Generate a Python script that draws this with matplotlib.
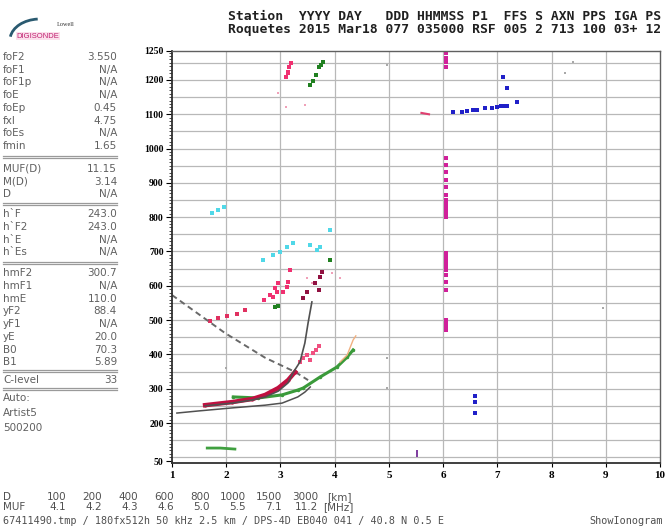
import numpy as np
import matplotlib
matplotlib.use("Agg")
import matplotlib.pyplot as plt
from matplotlib.patches import Arc

W, H = 666, 531

# ---- ionogram traces (frequency MHz, virtual height km) ----
o_freq = [1.61, 2.11, 2.48, 2.72, 2.96, 3.14, 3.27]
o_height = [252, 261, 270, 282, 302, 325, 349]

profile_freq = [1.61, 2.11, 2.48, 2.72, 2.96, 3.14, 3.23, 3.36, 3.45, 3.51, 3.58]
profile_height = [250, 258, 267, 276, 293, 317, 346, 378, 433, 492, 553]

lower_freq = [1.09, 1.48, 2.11, 2.72, 3.03, 3.32, 3.45, 3.55]
lower_height = [229, 235, 244, 252, 258, 276, 290, 305]

muf_freq = [1.0, 1.98, 2.72, 3.27, 3.51]
muf_height = [573, 462, 390, 349, 325]

x_freq = [2.13, 2.59, 3.03, 3.32, 3.42, 3.73, 4.04, 4.23, 4.34]
x_height = [276, 273, 282, 296, 302, 334, 363, 392, 413]

tail_freq = [4.10, 4.23, 4.34, 4.39]
tail_height = [378, 398, 442, 454]

pink_freq = [3.36, 3.42, 3.49, 3.55, 3.60, 3.66, 3.71]
pink_height = [378, 390, 398, 384, 404, 413, 424]

es_freq = [1.65, 1.89, 2.16]
es_height = [127, 127, 124]

hop_freq = [1.70, 1.85, 2.01, 2.20, 2.35]
hop_height = [497, 505, 511, 518, 529]

cluster_freq = [2.70, 2.81, 2.90, 2.96, 2.94, 3.05, 3.14, 3.18, 3.12, 2.86, 3.10, 3.14, 3.16, 3.20, 3.14]
cluster_height = [559, 573, 594, 608, 582, 582, 611, 646, 597, 567, 1209, 1223, 1238, 1250, 1220]

maroon_freq = [3.42, 3.49, 3.71, 3.73, 3.77, 3.64]
maroon_height = [564, 582, 588, 626, 640, 608]

light_freq = [3.49, 3.58, 4.10, 3.95, 2.96, 3.10, 3.45]
light_height = [623, 608, 623, 637, 1162, 1121, 1127]

green_freq = [2.90, 2.96, 3.92, 3.55, 3.60, 3.66, 3.71, 3.79, 3.75]
green_height = [538, 541, 675, 1185, 1197, 1215, 1238, 1252, 1244]

cyan_freq = [2.68, 2.86, 2.99, 3.12, 3.23, 3.55, 3.68, 3.73, 3.92, 1.74, 1.85, 1.96]
cyan_height = [675, 690, 699, 713, 725, 719, 704, 713, 763, 812, 821, 830]

mag_height = [1279, 1264, 1253, 1238,
              973, 952, 932, 908, 888, 865, 850, 843, 835, 828, 821, 814, 807, 801,
              696, 689, 681, 674, 666, 659, 652, 645, 631, 611, 588,
              500, 493, 486, 479, 471]
mag_freq = 6.06

blue_freq = [6.18, 6.35, 6.44, 6.55, 6.63, 6.77, 6.90, 7.00, 7.07, 7.11, 7.18, 7.37, 7.18, 7.11,
             6.59, 6.59, 6.59]
blue_height = [1107, 1108, 1110, 1112, 1113, 1118, 1119, 1121, 1123, 1124, 1124, 1136, 1177, 1209,
               279, 261, 229]

purple_freq = [5.52, 5.52, 5.52, 5.52]
purple_height = [103, 108, 113, 118]

gray_freq = [4.97, 8.40, 8.25, 4.97, 4.97, 2.0, 8.95]
gray_height = [1244, 1252, 1220, 390, 302, 360, 535]

# ---- side panel text ----
groups = [
    [("foF2", "3.550"), ("foF1", "N/A"), ("foF1p", "N/A"), ("foE", "N/A"),
     ("foEp", "0.45"), ("fxI", "4.75"), ("foEs", "N/A"), ("fmin", "1.65")],
    [("MUF(D)", "11.15"), ("M(D)", "3.14"), ("D", "N/A")],
    [("h`F", "243.0"), ("h`F2", "243.0"), ("h`E", "N/A"), ("h`Es", "N/A")],
    [("hmF2", "300.7"), ("hmF1", "N/A"), ("hmE", "110.0"), ("yF2", "88.4"),
     ("yF1", "N/A"), ("yE", "20.0"), ("B0", "70.3"), ("B1", "5.89")],
    [("C-level", "33")],
]
auto_lines = ["Auto:", "Artist5", "500200"]

dist_km = ["100", "200", "400", "600", "800", "1000", "1500", "3000"]
muf_mhz = ["4.1", "4.2", "4.3", "4.6", "5.0", "5.5", "7.1", "11.2"]

header1 = "Station  YYYY DAY   DDD HHMMSS P1  FFS S AXN PPS IGA PS"
header2 = "Roquetes 2015 Mar18 077 035000 RSF 005 2 713 100 03+ 12"
footer = "67411490.tmp / 180fx512h 50 kHz 2.5 km / DPS-4D EB040 041 / 40.8 N 0.5 E"


def px(x, y):
    return x / W, 1 - y / H


def sep_line(fig, y):
    # double grey separator used by the parameter table
    for dy in (-1.0, 1.0):
        yy = 1 - (y + dy) / H
        fig.add_artist(plt.Line2D([3 / W, 117 / W], [yy, yy],
                                  transform=fig.transFigure, color="#9a9a9a", lw=0.9))


fig = plt.figure(figsize=(W / 100, H / 100), dpi=100)
ax = fig.add_axes([172 / W, 1 - 463 / H, 488 / W, 412 / H])

ax.set_xlim(1, 10)
ax.set_ylim(83.4, 1284.5)

# grid
for h in range(100, 1300, 50):
    ax.axhline(h, color="#b8b8b8", lw=0.9, zorder=0)
for f in range(2, 10):
    ax.axvline(f, color="#b8b8b8", lw=0.9, zorder=0)

# traces
ax.plot(muf_freq, muf_height, color="#686868", lw=1.4, ls=(0, (3, 2)), zorder=2)
ax.plot(lower_freq, lower_height, color="#505050", lw=1.1, zorder=2)
ax.plot(x_freq, x_height, color="#3a9a3a", lw=2.2, marker=".", ms=3, zorder=3)
ax.plot(tail_freq, tail_height, color="#f0b080", lw=1.0, zorder=3)
ax.plot(o_freq, o_height, color="#c01040", lw=3.2, marker=".", ms=4, zorder=4)
ax.plot(profile_freq, profile_height, color="#505050", lw=1.2, zorder=5)
ax.scatter(pink_freq, pink_height, s=7, color="#f05080", marker="s", lw=0, zorder=4)
ax.plot(es_freq, es_height, color="#40a040", lw=2.0, zorder=3)
ax.scatter(hop_freq, hop_height, s=6, color="#e03060", marker="s", lw=0)
ax.scatter(cluster_freq, cluster_height, s=6, color="#f03070", marker="s", lw=0)
ax.scatter(maroon_freq, maroon_height, s=6, color="#901040", marker="s", lw=0)
ax.scatter(light_freq, light_height, s=4, color="#f0a0b8", marker="s", lw=0)
ax.scatter(green_freq, green_height, s=7, color="#208020", marker="s", lw=0)
ax.scatter(cyan_freq, cyan_height, s=6, color="#50d8e8", marker="s", lw=0)
ax.scatter([mag_freq] * len(mag_height), mag_height, s=6, color="#d0209a", marker="s", lw=0)
ax.scatter(blue_freq, blue_height, s=8, color="#2020c8", marker="s", lw=0)
ax.plot([5.60, 5.74], [1104, 1100], color="#e04070", lw=1.5)
ax.scatter(purple_freq, purple_height, s=4, color="#8040a0", marker="s", lw=0)
ax.scatter(gray_freq, gray_height, s=3, color="#a8a8a8", marker="s", lw=0)

# axes styling
ax.set_xticks(range(1, 11))
ax.set_xticklabels([str(i) for i in range(1, 11)])
yt = [89] + list(range(200, 1300, 100)) + [1284.5]
ax.set_yticks(yt)
ax.set_yticklabels(["50"] + [str(v) for v in range(200, 1300, 100)] + ["1250"])
ax.set_yticks(np.arange(90, 1285, 10), minor=True)
ax.tick_params(axis="y", which="major", length=4, width=0.8, pad=2, labelsize=7)
ax.tick_params(axis="y", which="minor", length=2, width=0.5)
ax.tick_params(axis="x", length=3, width=0.8, pad=3, labelsize=8)
for lab in ax.get_xticklabels() + ax.get_yticklabels():
    lab.set_fontfamily("Liberation Serif")
    lab.set_fontweight("bold")
for side in ["left", "bottom"]:
    ax.spines[side].set_color("#303030")
    ax.spines[side].set_linewidth(1.3)
for side in ["top", "right"]:
    ax.spines[side].set_color("#606060")
    ax.spines[side].set_linewidth(1.0)

# header
fig.text(*px(228, 17), header1, family="DejaVu Sans Mono", weight="bold",
         fontsize=9.35, va="center", color="#202020")
fig.text(*px(228, 30), header2, family="DejaVu Sans Mono", weight="bold",
         fontsize=9.35, va="center", color="#202020")

# logo
logo = Arc(px(40, 40), 60 / W, 42 / H, theta1=95, theta2=172,
           transform=fig.transFigure, color="#2a5a70", lw=2)
fig.add_artist(logo)
fig.text(*px(57, 26), "Lowell", fontsize=4.5, color="#303030", family="Liberation Serif")
fig.text(*px(38, 36), "DIGISONDE", fontsize=5.5, color="#c02070", ha="center",
         va="center", family="Liberation Sans",
         bbox=dict(fc="#fbe0ec", ec="none", pad=0.5))

# side panel
y = 57
gaps = [23, 20, 21, 18]
for gi, group in enumerate(groups):
    for name, val in group:
        fig.text(*px(3, y), name, fontsize=7.5, color="#606060", va="center")
        fig.text(*px(117, y), val, fontsize=7.5, color="#606060", va="center", ha="right")
        y += 12.7
    y -= 12.7
    if gi < len(gaps):
        sep_line(fig, y + gaps[gi] / 2)
        y += gaps[gi]
sep_line(fig, y + 9)
y += 18
for line in auto_lines:
    fig.text(*px(3, y), line, fontsize=7.5, color="#606060", va="center")
    y += 15

# bottom rows
fig.text(*px(3, 497), "D", fontsize=7.5, color="#505050", va="center")
fig.text(*px(3, 507), "MUF", fontsize=7.5, color="#505050", va="center")
for i, (d, m) in enumerate(zip(dist_km, muf_mhz)):
    xr = 66 + 36 * i
    fig.text(*px(xr, 497), d, fontsize=7.5, color="#505050", va="center", ha="right")
    fig.text(*px(xr, 507), m, fontsize=7.5, color="#505050", va="center", ha="right")
fig.text(*px(327, 497), "[km]", fontsize=7.5, color="#505050", va="center")
fig.text(*px(323, 507), "[MHz]", fontsize=7.5, color="#505050", va="center")
fig.text(*px(3, 521), footer, fontsize=7.3, family="DejaVu Sans Mono",
         color="#505050", va="center")
fig.text(*px(663, 521), "ShowIonogram", fontsize=7.3, family="DejaVu Sans Mono",
         color="#505050", va="center", ha="right")

fig.savefig("out.png", dpi=100)
